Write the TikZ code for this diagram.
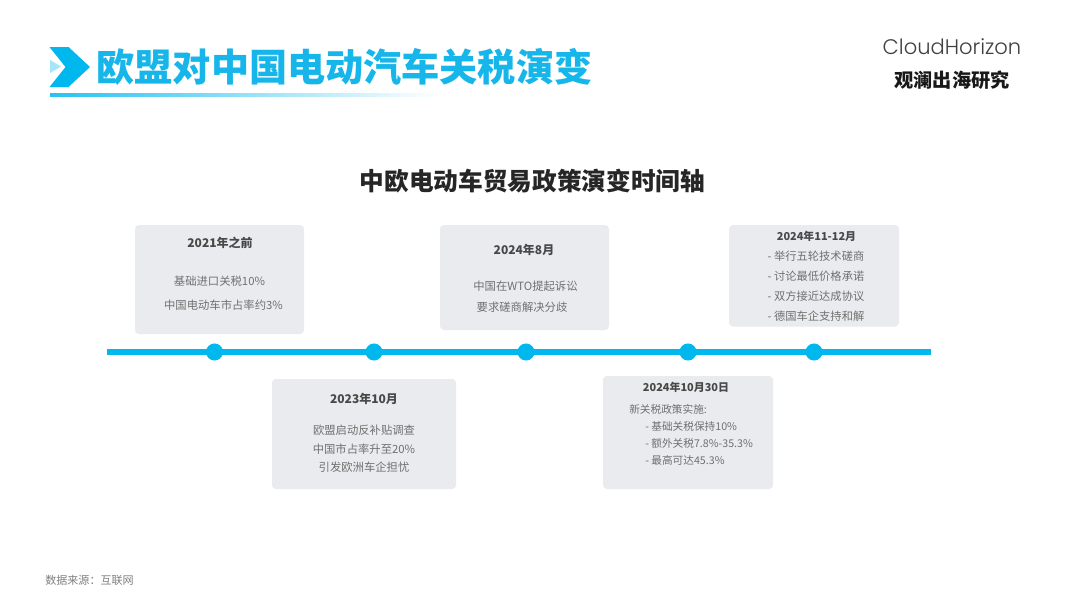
\documentclass[tikz,border=0pt]{standalone}
\usepackage{fontspec}
\setmainfont{Noto Sans CJK SC}
\newfontfamily\latinlogo{Poppins Light}
\usetikzlibrary{shadings}
\definecolor{brand}{HTML}{00B8EE}
\definecolor{titletx}{HTML}{16B6EA}
\definecolor{cardbg}{HTML}{E9EBEE}
\definecolor{headtx}{HTML}{484848}
\definecolor{bodytx}{HTML}{707070}
\tikzset{
  x=0.75pt,y=-0.75pt,
  card/.style={fill=cardbg,rounded corners=3pt},
  dot/.style={circle,fill=brand,minimum size=12.8pt,inner sep=0pt},
  cardhead/.style={inner sep=0pt,text=headtx,font=\fontsize{9pt}{11pt}\selectfont\bfseries},
  cardtext/.style={inner sep=0pt,text=bodytx,font=\fontsize{8.5pt}{11pt}\selectfont},
  smallhead/.style={cardhead,font=\fontsize{8.2pt}{10pt}\selectfont\bfseries},
  smalltext/.style={cardtext,font=\fontsize{8pt}{10pt}\selectfont},
  listtext/.style={cardtext,font=\fontsize{8.45pt}{10pt}\selectfont}
}
\begin{document}
\begin{tikzpicture}
\useasboundingbox (0,0) rectangle (1079,607);
\fill[white] (0,0) rectangle (1079,607);
% header
\fill[brand] (49.5,47) -- (68.5,47) -- (90,67) -- (68.5,87) -- (49.5,87) -- (65.5,67) -- cycle;
\fill[brand!35] (50,60) -- (61,66.5) -- (50,73) -- cycle;
\shade[left color=brand!85,right color=white] (50,93.5) rectangle (440,96.5);
\node[inner sep=0pt,anchor=center,text=titletx,font=\fontsize{28.6pt}{32pt}\selectfont\bfseries] (title) at (344.5,67) {欧盟对中国电动汽车关税演变};
\node[inner sep=0pt,text=black!75,font=\latinlogo\fontsize{15.8pt}{18pt}\selectfont] (logo) at (952,47) {CloudHorizon};
\node[inner sep=0pt,text=black!90,font=\fontsize{14.4pt}{16pt}\selectfont\bfseries] (logocn) at (952,80) {观澜出海研究};
\node[inner sep=0pt,text=black!85,font=\fontsize{18.5pt}{22pt}\selectfont\bfseries] (subtitle) at (532.5,181) {中欧电动车贸易政策演变时间轴};
% timeline
\coordinate (tlstart) at (107,352);
\coordinate (tlend) at (931,352);
\draw[brand,line width=3.8pt] (tlstart) -- (tlend);
\node[dot] (d1) at (214.5,352) {};
\node[dot] (d2) at (374,352) {};
\node[dot] (d3) at (526,352) {};
\node[dot] (d4) at (688,352) {};
\node[dot] (d5) at (814,352) {};
% card 1
\fill[card] (135,225) rectangle (304,334);
\node[cardhead] (c1h) at (220,243) {2021年之前};
\node[cardtext] (c1a) at (219.5,281) {基础进口关税10\%};
\node[cardtext] (c1b) at (223.5,305) {中国电动车市占率约3\%};
% card 2
\fill[card] (272,379) rectangle (456,489);
\node[cardhead] (c2h) at (364,399) {2023年10月};
\node[cardtext] (c2a) at (364,430) {欧盟启动反补贴调查};
\node[cardtext] (c2b) at (364,449) {中国市占率升至20\%};
\node[cardtext] (c2c) at (364,467.5) {引发欧洲车企担忧};
% card 3
\fill[card] (440,225) rectangle (609,330);
\node[cardhead] (c3h) at (524,250) {2024年8月};
\node[cardtext] (c3a) at (525.5,286) {中国在WTO提起诉讼};
\node[cardtext] (c3b) at (522,307) {要求磋商解决分歧};
% card 4
\fill[card] (603,376) rectangle (773,489);
\node[smallhead] (c4h) at (686,387) {2024年10月30日};
\node[smalltext,anchor=west] (c4a) at (629,409) {新关税政策实施:};
\node[smalltext,anchor=west] (c4b) at (645,426) {- 基础关税保持10\%};
\node[smalltext,anchor=west] (c4c) at (645,443) {- 额外关税7.8\%-35.3\%};
\node[smalltext,anchor=west] (c4d) at (645,460) {- 最高可达45.3\%};
% card 5
\fill[card] (729,225) rectangle (899,326.5);
\node[smallhead] (c5h) at (816.5,236.5) {2024年11-12月};
\node[listtext] (c5a) at (816,256.5) {- 举行五轮技术磋商};
\node[listtext] (c5b) at (816,276.5) {- 讨论最低价格承诺};
\node[listtext] (c5c) at (816,296.5) {- 双方接近达成协议};
\node[listtext] (c5d) at (816,316.5) {- 德国车企支持和解};
% source
\node[inner sep=0pt,anchor=west,text=black!50,font=\fontsize{8.3pt}{9pt}\selectfont] (src) at (45,580) {数据来源：互联网};
\end{tikzpicture}
\end{document}
